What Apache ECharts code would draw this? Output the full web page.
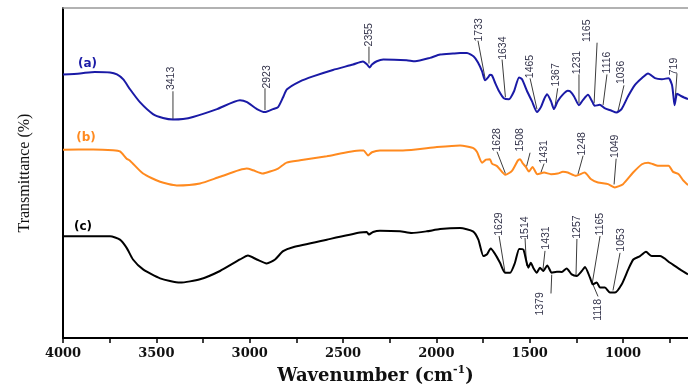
<!DOCTYPE html>
<html>
<head>
<meta charset="utf-8">
<style>html,body{margin:0;padding:0;background:#fff}#chart{width:688px;height:390px}</style>
<script src="https://cdn.jsdelivr.net/npm/echarts@6/dist/echarts.min.js"></script>
</head>
<body>
<div id="chart"></div>
<script>
// spectra: wavenumber (cm-1) and relative transmittance (offset curves)
var waveA = [4000,3909,3829,3748,3711,3677,3641,3588,3518,3464,3411,3357,3304,3175,3052,3014,2961,2918,2875,2848,2821,2800,2730,2661,2554,2446,2393,2371,2358,2345,2319,2284,2159,2114,2034,1980,1911,1873,1836,1800,1777,1755,1739,1723,1713,1702,1684,1664,1639,1611,1584,1557,1541,1514,1488,1461,1440,1423,1407,1386,1370,1350,1324,1296,1284,1263,1236,1214,1188,1166,1152,1125,1099,1064,1035,1008,973,936,900,866,829,792,756,738,730,724,716,711,684,652];
var transA = [266,267,268.5,268,266,261,251,238,226,222,220.5,221,223,231,240,238,231,228,231,233,243,251,259,264,270.5,276,279,276,273,276,279.3,281,280.3,279.3,282.7,286,287,287.5,287.5,284,278,269,260,263,265.6,265,257,249,242,241,249,263,261,249,239,228,233,241,246,239,231,239,245.4,249.4,249,244,235,240.4,245.4,239,234.3,235.3,232,229.6,227.6,231,244,255.5,262.2,267,262.2,261.2,262.2,255.5,244,235,243,246.4,243.7,241];

var waveB = [4000,3839,3732,3695,3659,3641,3571,3480,3391,3266,3159,3016,2982,2929,2891,2848,2802,2730,2587,2409,2390,2366,2345,2302,2179,1997,1873,1836,1800,1782,1755,1734,1713,1702,1675,1630,1595,1563,1552,1536,1521,1504,1485,1459,1423,1386,1350,1322,1296,1252,1206,1171,1134,1080,1044,1000,946,899,865,810,756,732,702,679,652];
var transB = [190,190.3,189.5,188.3,181,179,166,157.7,154,156,162.7,171,169.3,166,168,171,177,179.3,183.5,189.3,189.3,184.3,187.5,189.3,189.3,192.7,194.3,193.3,191.5,187.7,177,180,180.4,176,173.5,164.7,168.7,179.3,180.4,176,172.7,168,172.7,165.4,167,165.4,166,167.7,167,163.7,167,160.3,157,155.3,152,155.3,167,175.4,177,173.8,173.8,167.7,165.4,159.3,154.3];

var waveC = [4000,3748,3695,3659,3625,3571,3480,3373,3266,3159,3052,3009,2962,2909,2864,2821,2768,2587,2409,2373,2361,2339,2302,2195,2132,2052,1980,1873,1804,1775,1748,1730,1709,1686,1659,1632,1605,1579,1556,1534,1520,1507,1494,1481,1462,1445,1427,1406,1382,1355,1328,1302,1275,1248,1221,1204,1177,1162,1141,1123,1097,1070,1043,1007,972,945,909,877,846,802,748,695,652];
var transC = [102.7,102.7,99.3,91,79.3,69.3,60.3,56,59.3,67.7,79.3,83.3,79.3,75.3,79.3,87.7,91.7,99.3,106.5,107,104.5,107,108.3,107.7,106,107.7,110,111,107.7,99.3,82.7,84.3,90.3,85,76,66,66,76,90,89.3,79.3,71,76,71,66,71,67.7,73.3,66,67,66.7,70.3,64.3,62.7,67.7,71.7,61,54.3,56,51,51,46,46,54.3,69.3,79.3,82.7,87,82.7,82.7,76,69.3,64.3];

// peak labels: [text, peak wn, peak T, leader end wn, leader end T, label wn, label T]
var peaksA = [
  ['3413',3411,221,3411,249,3422,262],
  ['2923',2918,230,2918,252,2907,263.5],
  ['2355',2361,277,2361,294,2361,306],
  ['1733',1739,262,1777,300,1772,311],
  ['1634',1630,243,1648,281,1641,292.5],
  ['1465',1461,231,1498,262,1498,274],
  ['1367',1364,234,1350,252,1356,265.5],
  ['1231',1236,237,1236,266,1247,278],
  ['1165',1155,237,1139,298,1193,310],
  ['1116',1107,235,1086,266,1086,278],
  ['1036',1027,229,995,255,1008,268],
  ['719',722,237,711,267,725,274]
];
var peaksB = [
  ['1628',1630,166,1675,188,1675,200],
  ['1508',1517,173,1498,187,1552,200],
  ['1431',1440,167,1423,176,1425,188],
  ['1248',1242,165,1214,184,1220,196],
  ['1049',1048,155,1037,181,1043,193.5]
];
var peaksC = [
  ['1629',1632,66,1664,103,1664,115],
  ['1514',1517,73,1525,101,1525,111],
  ['1431',1429,69,1418,88,1410,101],
  ['1257',1252,63,1247,100,1244,112],
  ['1165',1166,54,1123,103,1123,115],
  ['1053',1054,48,1016,86,1011,99],
  ['1379',1382,64,1386,45,1445,34.5],
  ['1118',1161,54,1134,42,1134,28.5]
];
var curveTags = [['(a)',3869,277],['(b)',3877,202],['(c)',3893,112.5]];
var tagColors = ['#1a1aa6','#ff8a1f','#000000'];
var labelTicks = [4000,3500,3000,2500,2000,1500,1000];
var minorTicks = [4000,3750,3500,3250,3000,2750,2500,2250,2000,1750,1500,1250,1000,750];

function zip(w, t){
    var out = [];
    for (var i = 0; i < w.length; i++) out.push([w[i], t[i]]);
    return out;
}
var peakRows = peaksA.concat(peaksB, peaksC);

var peakRender = function(params, api){
    var p1 = api.coord([api.value(0), api.value(1)]);
    var p2 = api.coord([api.value(2), api.value(3)]);
    var pt = api.coord([api.value(4), api.value(5)]);
    return {
        type: 'group',
        children: [
            {type:'line', shape:{x1:p1[0],y1:p1[1],x2:p2[0],y2:p2[1]}, style:{stroke:'#3c3c3c', lineWidth:1}},
            {type:'text', x:pt[0], y:pt[1], rotation:Math.PI/2,
             style:{text:peakRows[params.dataIndex][0], fill:'#33334a', fontSize:10.5,
                    fontFamily:'"Liberation Sans Narrow","Liberation Sans",Arial', align:'center', verticalAlign:'middle'}}
        ]
    };
};
var tagRender = function(params, api){
    var pt = api.coord([api.value(0), api.value(1)]);
    return {
        type:'text', x:pt[0], y:pt[1],
        style:{text:curveTags[params.dataIndex][0], fill:tagColors[params.dataIndex], fontSize:12,
               fontWeight:'bold', fontFamily:'DejaVu Sans', align:'center', verticalAlign:'middle'}
    };
};

var serif = 'DejaVu Serif';
var option = {
    animation: false,
    grid: {left:63, right:0, top:8, bottom:49},
    xAxis: [
        {
            type:'value', min:652, max:4000, inverse:true, position:'bottom',
            name:'{t|Wavenumber (cm}{s|-1}{t|)}', nameLocation:'middle', nameGap:25,
            nameTextStyle:{rich:{
                t:{fontFamily:serif, fontSize:18, fontWeight:'bold', color:'#111', lineHeight:22},
                s:{fontFamily:serif, fontSize:11, fontWeight:'bold', color:'#111', verticalAlign:'top', lineHeight:22}
            }},
            axisLine:{onZero:false, lineStyle:{color:'#000', width:2}},
            axisTick:{show:true, length:5, customValues:minorTicks, lineStyle:{color:'#000', width:1.5}},
            axisLabel:{customValues:labelTicks, margin:9, color:'#111', fontFamily:serif, fontSize:13, fontWeight:'bold',
                       formatter:function(v){ return String(v); }},
            splitLine:{show:false}
        },
        {
            type:'value', min:652, max:4000, inverse:true, position:'top',
            axisLine:{onZero:false, lineStyle:{color:'#999', width:1.5}},
            axisTick:{show:false}, axisLabel:{show:false}, splitLine:{show:false}
        }
    ],
    yAxis: {
        type:'value', min:0, max:333,
        name:'Transmittance (%)', nameLocation:'middle', nameGap:30, nameRotate:90,
        nameTextStyle:{fontFamily:'Liberation Serif', fontSize:16, color:'#111'},
        axisLine:{show:true, lineStyle:{color:'#000', width:2}},
        axisTick:{show:false}, axisLabel:{show:false}, splitLine:{show:false}
    },
    series: [
        {type:'line', data:zip(waveA, transA), showSymbol:false, smooth:0.2, lineStyle:{color:tagColors[0], width:2}},
        {type:'line', data:zip(waveB, transB), showSymbol:false, smooth:0.2, lineStyle:{color:tagColors[1], width:2}},
        {type:'line', data:zip(waveC, transC), showSymbol:false, smooth:0.2, lineStyle:{color:tagColors[2], width:2}},
        {type:'custom', renderItem:peakRender, clip:false, silent:true,
         encode:{x:[0,2,4], y:[1,3,5]},
         data:peakRows.map(function(r){ return r.slice(1); })},
        {type:'custom', renderItem:tagRender, clip:false, silent:true,
         encode:{x:0, y:1},
         data:curveTags.map(function(r){ return [r[1], r[2]]; })}
    ]
};
var chart = echarts.init(document.getElementById('chart'));
chart.setOption(option);
</script>
</body>
</html>
